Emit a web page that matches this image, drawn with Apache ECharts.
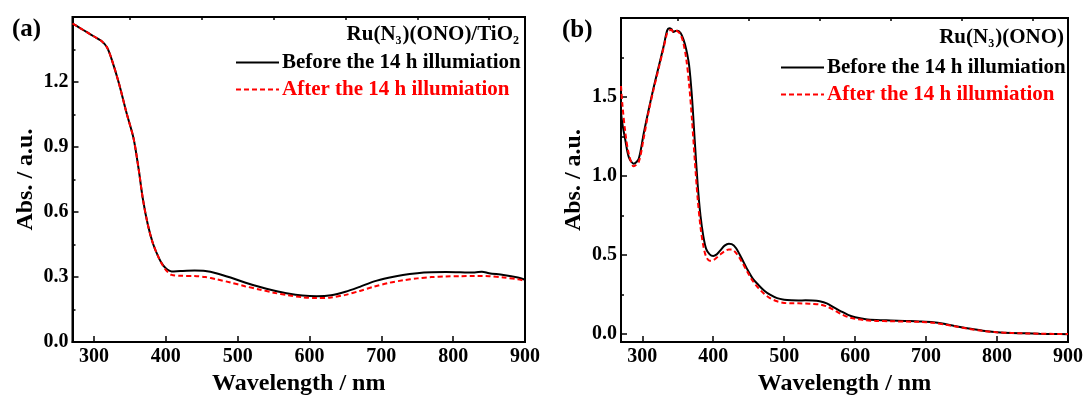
<!DOCTYPE html>
<html>
<head>
<meta charset="utf-8">
<script src="https://cdn.jsdelivr.net/npm/echarts@6/dist/echarts.min.js"></script>
<style>
  html, body { margin: 0; padding: 0; background: #fff; }
  #chart { width: 1086px; height: 401px; }
</style>
</head>
<body>
<div id="chart"></div>
<script>
// ---- Panel (a): Ru(N3)(ONO)/TiO2 film ----
const wavelengthA = [270, 280, 290, 300, 310, 318, 325, 335, 345, 355, 362, 368, 375, 382, 390, 396, 402, 408, 420, 440, 455, 470, 490, 510, 530, 550, 570, 590, 610, 630, 650, 670, 690, 710, 730, 750, 770, 790, 810, 830, 840, 850, 870, 890, 900];
const absBeforeA = [1.47, 1.45, 1.43, 1.41, 1.39, 1.36, 1.30, 1.19, 1.06, 0.94, 0.80, 0.66, 0.54, 0.455, 0.39, 0.355, 0.335, 0.326, 0.328, 0.330, 0.328, 0.318, 0.298, 0.275, 0.255, 0.238, 0.224, 0.215, 0.212, 0.216, 0.232, 0.255, 0.280, 0.297, 0.310, 0.318, 0.322, 0.323, 0.322, 0.321, 0.325, 0.318, 0.310, 0.298, 0.288];
const absAfterA = [1.47, 1.45, 1.43, 1.41, 1.39, 1.36, 1.30, 1.19, 1.06, 0.94, 0.80, 0.66, 0.54, 0.455, 0.39, 0.352, 0.325, 0.310, 0.306, 0.305, 0.300, 0.290, 0.275, 0.258, 0.243, 0.228, 0.216, 0.207, 0.203, 0.206, 0.218, 0.236, 0.256, 0.273, 0.285, 0.294, 0.300, 0.303, 0.304, 0.305, 0.305, 0.304, 0.298, 0.290, 0.282];

// ---- Panel (b): Ru(N3)(ONO) solution ----
const wavelengthB = [270, 272, 276, 281, 288, 295, 302, 309, 316, 323, 330, 335, 338, 341, 344, 347, 350, 354, 358, 362, 366, 370, 374, 378, 382, 386, 390, 395, 400, 405, 410, 416, 422, 426, 432, 440, 448, 456, 464, 472, 480, 490, 500, 510, 520, 530, 540, 550, 560, 570, 580, 590, 600, 615, 630, 650, 670, 690, 710, 725, 740, 760, 780, 800, 820, 840, 860, 880, 900];
const absBeforeB = [1.40, 1.33, 1.23, 1.12, 1.078, 1.11, 1.27, 1.42, 1.56, 1.69, 1.82, 1.92, 1.935, 1.93, 1.912, 1.918, 1.92, 1.905, 1.865, 1.80, 1.70, 1.50, 1.22, 0.95, 0.75, 0.62, 0.54, 0.505, 0.495, 0.505, 0.53, 0.56, 0.572, 0.57, 0.545, 0.48, 0.41, 0.35, 0.31, 0.275, 0.25, 0.228, 0.218, 0.214, 0.213, 0.214, 0.213, 0.208, 0.195, 0.17, 0.145, 0.122, 0.107, 0.095, 0.09, 0.087, 0.084, 0.081, 0.076, 0.066, 0.052, 0.036, 0.022, 0.013, 0.008, 0.006, 0.003, 0.001, 0.0];
const absAfterB = [1.57, 1.45, 1.28, 1.14, 1.062, 1.09, 1.24, 1.41, 1.55, 1.68, 1.81, 1.905, 1.92, 1.925, 1.912, 1.92, 1.915, 1.895, 1.84, 1.74, 1.58, 1.36, 1.10, 0.86, 0.68, 0.56, 0.49, 0.465, 0.468, 0.485, 0.505, 0.525, 0.535, 0.535, 0.515, 0.46, 0.395, 0.335, 0.29, 0.255, 0.228, 0.208, 0.198, 0.195, 0.195, 0.194, 0.192, 0.188, 0.176, 0.153, 0.128, 0.108, 0.097, 0.088, 0.084, 0.082, 0.080, 0.078, 0.072, 0.062, 0.050, 0.034, 0.021, 0.012, 0.008, 0.005, 0.003, 0.002, 0.001];

// ---- Axis tick values ----
const xMajorTicks = [300, 400, 500, 600, 700, 800, 900];
const xMinorTicks = [350, 450, 550, 650, 750, 850];
const yMajorTicksB = [0, 0.5, 1.0, 1.5];
const yMinorTicksB = [0.25, 0.75, 1.25, 1.75];

const seriesBefore = 'Before the 14 h illumiation';
const seriesAfter = 'After the 14 h illumiation';

const FONT = '"Liberation Serif", "Times New Roman", serif';
const zip = (xs, ys) => xs.map((x, i) => [x, ys[i]]);

const labelStyle = { fontFamily: FONT, fontWeight: 'bold', fontSize: 20, color: '#000' };
const nameStyle = { fontFamily: FONT, fontWeight: 'bold', fontSize: 24, color: '#000' };
const tickLine = { color: '#000', width: 1.5 };

function majorX(gridIndex) {
  return {
    type: 'value', gridIndex, min: 270, max: 900,
    axisLine: { onZero: false, lineStyle: { color: '#000', width: 2 } },
    axisTick: { inside: true, length: 6, customValues: xMajorTicks, lineStyle: tickLine },
    axisLabel: Object.assign({ customValues: xMajorTicks, margin: 5 }, labelStyle),
    splitLine: { show: false },
    name: 'Wavelength / nm', nameLocation: 'middle', nameGap: 25,
    nameTextStyle: nameStyle
  };
}
function minorX(gridIndex) {
  return {
    type: 'value', gridIndex, min: 270, max: 900,
    axisLine: { show: false, onZero: false },
    axisTick: { inside: true, length: 3, customValues: xMinorTicks, lineStyle: tickLine },
    axisLabel: { show: false },
    splitLine: { show: false }
  };
}

// chemical formula text with subscripts
const rich = {
  n: { fontFamily: FONT, fontWeight: 'bold', fontSize: 21, color: '#000', lineHeight: 21, verticalAlign: 'top' },
  s: { fontFamily: FONT, fontWeight: 'bold', fontSize: 12, color: '#000', lineHeight: 12, verticalAlign: 'top', padding: [11, 1, 0, 0] }
};

const lineSeries = (name, data, xi, yi, color, dashed) => ({
  name, type: 'line', xAxisIndex: xi, yAxisIndex: yi,
  data, symbol: 'none', showSymbol: false, smooth: 0.3,
  lineStyle: { color, width: 2, type: dashed ? [5, 3] : 'solid' },
  itemStyle: { color },
  z: dashed ? 3 : 2,
  animation: false
});

const legendData = [
  { name: seriesBefore, textStyle: { color: '#000' } },
  { name: seriesAfter, textStyle: { color: '#ff0000' } }
];
const legendCommon = {
  orient: 'vertical', itemWidth: 43, itemHeight: 10, itemGap: 6, padding: 0,
  selectedMode: false,
  itemStyle: { opacity: 0 },
  textStyle: { fontFamily: FONT, fontWeight: 'bold', fontSize: 21, lineHeight: 21, padding: [0, 0, 0, -2] },
  data: legendData
};

const option = {
  backgroundColor: '#fff',
  animation: false,
  title: [
    { text: '(a)', left: 12, top: 17, padding: 0, textStyle: { fontFamily: FONT, fontWeight: 'bold', fontSize: 25, color: '#000' } },
    { text: '(b)', left: 562, top: 18, padding: 0, textStyle: { fontFamily: FONT, fontWeight: 'bold', fontSize: 25, color: '#000' } },
    { text: '{n|Ru(N}{s|3}{n|)(ONO)/TiO}{s|2}', right: 566, top: 24, padding: 0, textStyle: { rich } },
    { text: '{n|Ru(N}{s|3}{n|)(ONO)}', right: 22, top: 27, padding: 0, textStyle: { rich } }
  ],
  legend: [
    Object.assign({ left: 235, top: 52 }, legendCommon),
    Object.assign({ left: 780, top: 57 }, legendCommon)
  ],
  grid: [
    { left: 72.5, top: 17, width: 452.5, height: 335, show: true, borderColor: '#000', borderWidth: 2, backgroundColor: 'transparent' },
    { left: 621, top: 18, width: 448, height: 334.5, show: true, borderColor: '#000', borderWidth: 2, backgroundColor: 'transparent' }
  ],
  xAxis: [majorX(0), minorX(0), majorX(1), minorX(1)],
  yAxis: [
    {
      type: 'value', gridIndex: 0, min: 0, max: 1.5, interval: 0.3,
      axisLine: { lineStyle: { color: '#000', width: 2 } },
      axisTick: { inside: true, length: 6, lineStyle: tickLine },
      minorTick: { show: true, splitNumber: 2, length: 3, lineStyle: tickLine },
      axisLabel: Object.assign({ margin: 4, showMaxLabel: false, formatter: v => v.toFixed(1) }, labelStyle),
      splitLine: { show: false }, minorSplitLine: { show: false },
      name: 'Abs. / a.u.', nameLocation: 'middle', nameGap: 35, nameTextStyle: nameStyle
    },
    {
      type: 'value', gridIndex: 1, min: -0.05, max: 2.0, position: 'left',
      axisLine: { lineStyle: { color: '#000', width: 2 } },
      axisTick: { inside: true, length: 6, customValues: yMajorTicksB, lineStyle: tickLine },
      axisLabel: Object.assign({ margin: 4, customValues: yMajorTicksB, formatter: v => v.toFixed(1) }, labelStyle),
      splitLine: { show: false },
      name: 'Abs. / a.u.', nameLocation: 'middle', nameGap: 35, nameTextStyle: nameStyle
    },
    {
      type: 'value', gridIndex: 1, min: -0.05, max: 2.0, position: 'left', offset: 0,
      axisLine: { show: false },
      axisTick: { inside: true, length: 3, customValues: yMinorTicksB, lineStyle: tickLine },
      axisLabel: { show: false },
      splitLine: { show: false }
    }
  ],
  series: [
    lineSeries(seriesBefore, zip(wavelengthA, absBeforeA), 0, 0, '#000', false),
    lineSeries(seriesAfter, zip(wavelengthA, absAfterA), 0, 0, '#ff0000', true),
    lineSeries(seriesBefore, zip(wavelengthB, absBeforeB), 2, 1, '#000', false),
    lineSeries(seriesAfter, zip(wavelengthB, absAfterB), 2, 1, '#ff0000', true)
  ]
};

const chart = echarts.init(document.getElementById('chart'), null, { renderer: 'canvas' });
chart.setOption(option);
</script>
</body>
</html>
